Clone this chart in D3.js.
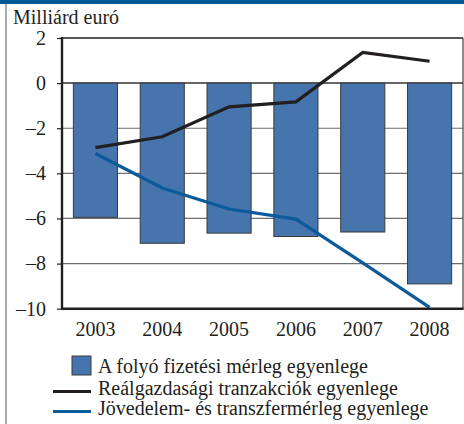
<!DOCTYPE html>
<meta charset="utf-8">
<style>
body { margin: 0; background: #fff; }
text { font-family: 'Liberation Serif', 'DejaVu Serif', serif; fill: #231f20; }
</style>
<body>
<svg width="464" height="424"></svg>
<script src="https://cdnjs.cloudflare.com/ajax/libs/d3/7.8.5/d3.min.js"></script>
<script>

var years = ["2003", "2004", "2005", "2006", "2007", "2008"];
var currentAccount = [-5.95, -7.1, -6.65, -6.8, -6.6, -8.9];
var realEconomy = [-2.86, -2.38, -1.05, -0.83, 1.36, 0.97];
var incomeTransfer = [-3.12, -4.65, -5.58, -6.03, -7.97, -9.94];
var yTicks = [2, 0, -2, -4, -6, -8, -10];
var legendLabels = [
  "A folyó fizetési mérleg egyenlege",
  "Reálgazdasági tranzakciók egyenlege",
  "Jövedelem- és transzfermérleg egyenlege"
];

var svg = d3.select("svg"),
    plotLeft = 62, plotRight = 463, plotTop = 38, plotBottom = 308.7;

var x = d3.scaleBand().domain(years).range([plotLeft, plotRight]).paddingInner(0.34).paddingOuter(0.17),
    y = d3.scaleLinear().domain([-10, 2]).range([plotBottom, plotTop]);

// frame decorations
svg.append("rect").attr("x", 0).attr("y", 0).attr("width", 464).attr("height", 4).attr("fill", "#00589b");
svg.append("rect").attr("x", 5).attr("y", 4).attr("width", 2).attr("height", 420).attr("fill", "#a7a9ac");

svg.append("text")
    .attr("x", 13).attr("y", 24)
    .attr("font-size", 20)
    .text("Milliárd euró");

// grid lines
svg.selectAll("line.grid")
  .data(yTicks.filter(d => d > -10 && d < 2))
  .enter().append("line")
    .attr("x1", plotLeft).attr("x2", plotRight)
    .attr("y1", d => y(d)).attr("y2", d => y(d))
    .attr("stroke", d => d === 0 ? "#333" : "#6d6e71")
    .attr("stroke-width", d => d === 0 ? 1.5 : 1.2);

// bars
svg.selectAll("rect.bar")
  .data(currentAccount)
  .enter().append("rect")
    .attr("x", (d, i) => x(years[i]))
    .attr("y", y(0))
    .attr("width", x.bandwidth())
    .attr("height", d => y(d) - y(0))
    .attr("fill", "#4674ad")
    .attr("stroke", "#3a3a3c")
    .attr("stroke-width", 1);

// plot frame: top and right
svg.append("line").attr("x1", plotLeft).attr("x2", plotRight).attr("y1", plotTop).attr("y2", plotTop)
    .attr("stroke", "#231f20").attr("stroke-width", 1.5);
svg.append("line").attr("x1", plotRight).attr("x2", plotRight).attr("y1", plotTop).attr("y2", plotBottom)
    .attr("stroke", "#414042").attr("stroke-width", 1.2);

// lines
var line = d3.line()
    .x((d, i) => x(years[i]) + x.bandwidth() / 2)
    .y(d => y(d));

svg.append("path").datum(realEconomy)
    .attr("d", line).attr("fill", "none")
    .attr("stroke", "#231f20").attr("stroke-width", 3.2);
svg.append("path").datum(incomeTransfer)
    .attr("d", line).attr("fill", "none")
    .attr("stroke", "#0b5a9a").attr("stroke-width", 3.2);

// axes
var yAxis = svg.append("g")
    .attr("transform", "translate(" + plotLeft + ",0)")
    .call(d3.axisLeft(y).tickValues(yTicks).tickSize(5).tickPadding(11)
      .tickFormat(d => d < 0 ? "\u2013" + Math.abs(d) : d));
yAxis.select(".domain").remove();
yAxis.selectAll(".tick line").attr("stroke", "#231f20").attr("stroke-width", 1.2);
yAxis.selectAll("text").attr("font-size", 20).attr("fill", "#231f20")
    .attr("font-family", "'Liberation Serif', serif");

svg.append("line").attr("x1", plotLeft).attr("x2", plotLeft).attr("y1", plotTop - 1).attr("y2", plotBottom + 1.2)
    .attr("stroke", "#231f20").attr("stroke-width", 2.4);
svg.append("line").attr("x1", plotLeft - 1).attr("x2", plotRight + 0.6).attr("y1", plotBottom).attr("y2", plotBottom)
    .attr("stroke", "#231f20").attr("stroke-width", 2.4);

var xAxis = svg.append("g")
    .attr("transform", "translate(0," + plotBottom + ")")
    .call(d3.axisBottom(x).tickSize(0).tickPadding(13));
xAxis.select(".domain").remove();
xAxis.selectAll("text").attr("font-size", 20).attr("fill", "#231f20")
    .attr("font-family", "'Liberation Serif', serif");

// legend
var legend = svg.append("g");
legend.append("rect")
    .attr("x", 72).attr("y", 356).attr("width", 19).attr("height", 19)
    .attr("fill", "#4674ad").attr("stroke", "#3a3a3c").attr("stroke-width", 1);
legend.append("line").attr("x1", 53).attr("x2", 91).attr("y1", 391.5).attr("y2", 391.5)
    .attr("stroke", "#231f20").attr("stroke-width", 3.2);
legend.append("line").attr("x1", 53).attr("x2", 91).attr("y1", 411.5).attr("y2", 411.5)
    .attr("stroke", "#0b5a9a").attr("stroke-width", 3.2);
legend.selectAll("text")
  .data(legendLabels)
  .enter().append("text")
    .attr("x", 98)
    .attr("y", (d, i) => [373, 395, 415][i])
    .attr("font-size", 20)
    .text(d => d);

</script>
